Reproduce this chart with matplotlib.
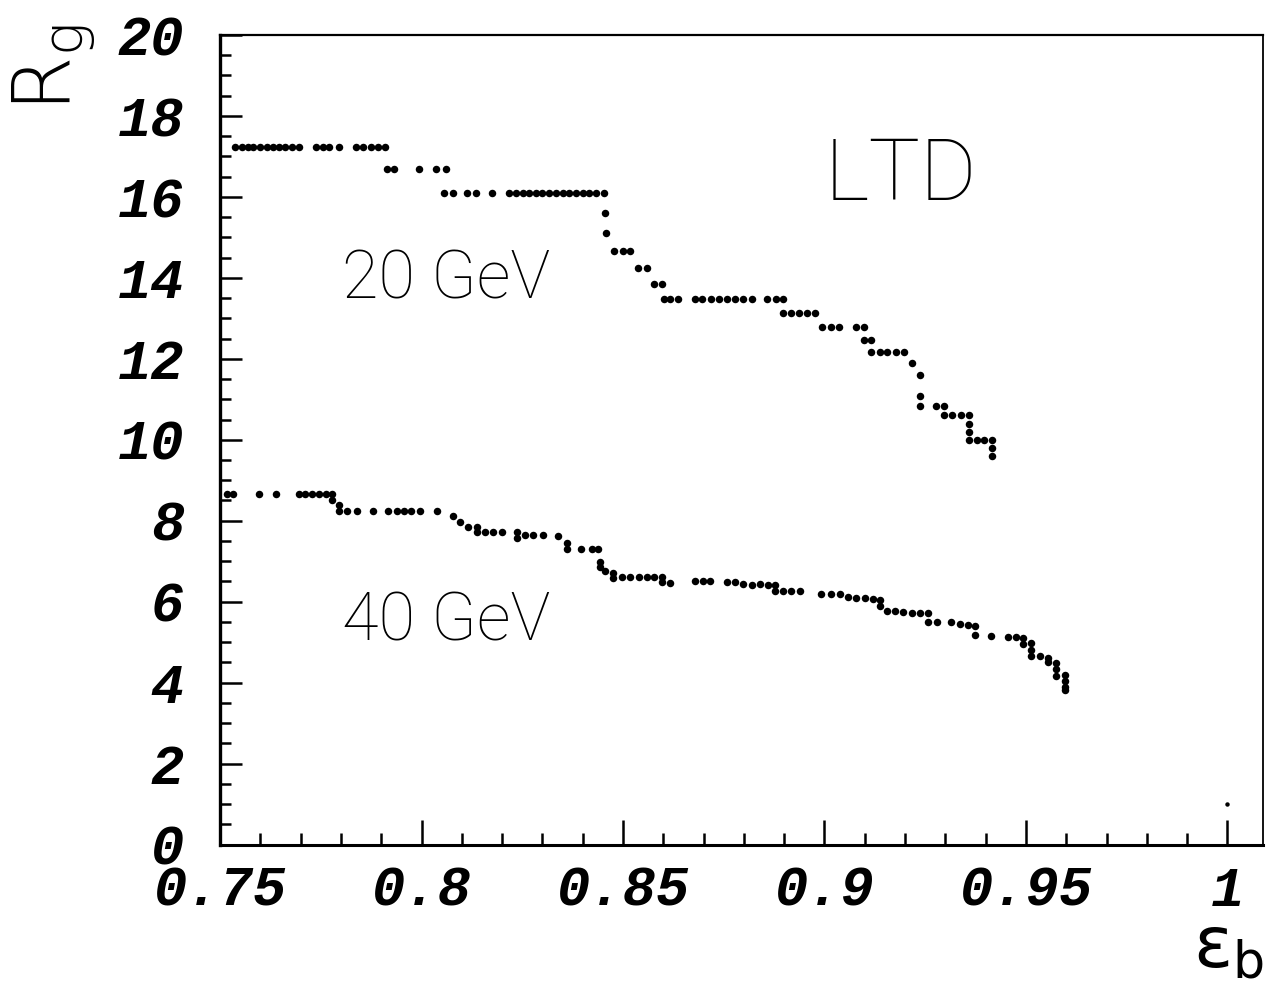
import matplotlib
matplotlib.use("Agg")
import matplotlib.pyplot as plt
from matplotlib.ticker import MultipleLocator, FixedLocator

# Rejection R_g versus b-tagging efficiency, LTD detector
eff_20 = [0.7537, 0.7554, 0.7569, 0.7583, 0.7599, 0.7616, 0.7631, 0.7647, 0.7662, 0.7679, 0.7697,
          0.7738, 0.7755, 0.7771, 0.7796,
          0.7837, 0.7856, 0.7875, 0.7891, 0.7910,
          0.7915, 0.7931, 0.7994, 0.8036, 0.8060,
          0.8056, 0.8077, 0.8114, 0.8135, 0.8176, 0.8218, 0.8234, 0.8251, 0.8267, 0.8284,
          0.8300, 0.8317, 0.8333, 0.8350, 0.8366, 0.8383, 0.8400, 0.8416, 0.8433, 0.8453,
          0.8455, 0.8457,
          0.8478, 0.8499, 0.8518,
          0.8538, 0.8559,
          0.8577, 0.8596,
          0.8601, 0.8617, 0.8637, 0.8678, 0.8697, 0.8718, 0.8738, 0.8757, 0.8778, 0.8799,
          0.8819, 0.8858, 0.8879, 0.8898,
          0.8898, 0.8917, 0.8937, 0.8956, 0.8976,
          0.8995, 0.9015, 0.9036, 0.9077, 0.9097,
          0.9097, 0.9116,
          0.9116, 0.9137, 0.9156, 0.9177, 0.9197,
          0.9216, 0.9237, 0.9237,
          0.9237, 0.9276, 0.9296,
          0.9296, 0.9317, 0.9338, 0.9358,
          0.9358, 0.9358,
          0.9358, 0.9379, 0.9397, 0.9416,
          0.9416, 0.9416]
rg_20 = [17.23] * 11 + [17.23] * 4 + [17.23] * 5 + \
        [16.69] * 5 + \
        [16.10] * 20 + \
        [15.60, 15.12] + \
        [14.66] * 3 + \
        [14.25] * 2 + \
        [13.84] * 2 + \
        [13.48] * 14 + \
        [13.12] * 5 + \
        [12.79] * 5 + \
        [12.47] * 2 + \
        [12.17] * 5 + \
        [11.90, 11.59, 11.08] + \
        [10.83] * 3 + \
        [10.60] * 4 + \
        [10.38, 10.19] + \
        [9.99] * 4 + \
        [9.80, 9.60]

eff_40 = [0.7517, 0.7533, 0.7598, 0.7638, 0.7695, 0.7712, 0.7729, 0.7745, 0.7762, 0.7778,
          0.7778, 0.7796, 0.7796,
          0.7814, 0.7839, 0.7879, 0.7917, 0.7938, 0.7956, 0.7975, 0.7996, 0.8039,
          0.8077, 0.8095, 0.8116, 0.8137, 0.8137, 0.8157, 0.8178, 0.8199,
          0.8236, 0.8236, 0.8257, 0.8277, 0.8302,
          0.8338, 0.8360, 0.8360, 0.8397, 0.8422, 0.8438,
          0.8443, 0.8443, 0.8455, 0.8476, 0.8476,
          0.8498, 0.8518, 0.8539, 0.8560, 0.8576, 0.8597, 0.8597, 0.8617,
          0.8679, 0.8699, 0.8716,
          0.8757, 0.8778, 0.8798, 0.8819, 0.8840, 0.8860, 0.8877, 0.8877,
          0.8898, 0.8918, 0.8939,
          0.8992, 0.9017, 0.9038, 0.9058, 0.9079, 0.9100, 0.9120, 0.9137, 0.9137,
          0.9154, 0.9174, 0.9195, 0.9216, 0.9236, 0.9257, 0.9257, 0.9278,
          0.9315, 0.9335, 0.9356, 0.9373, 0.9373, 0.9414,
          0.9455, 0.9476, 0.9492, 0.9492, 0.9513, 0.9513, 0.9513, 0.9534,
          0.9554, 0.9554, 0.9575, 0.9575, 0.9575,
          0.9596, 0.9596, 0.9596, 0.9596]
rg_40 = [8.65] * 10 + \
        [8.51, 8.38, 8.23] + \
        [8.23] * 9 + \
        [8.11, 7.97, 7.85, 7.84, 7.72, 7.72, 7.72, 7.72] + \
        [7.72, 7.58, 7.64, 7.64, 7.64] + \
        [7.62, 7.45, 7.31, 7.31, 7.31, 7.31] + \
        [6.98, 6.86, 6.76, 6.72, 6.58] + \
        [6.61] * 6 + [6.48, 6.47] + \
        [6.51] * 3 + \
        [6.48, 6.48, 6.43, 6.41, 6.43, 6.41, 6.41, 6.27] + \
        [6.26] * 3 + \
        [6.20, 6.20, 6.20, 6.12, 6.10, 6.10, 6.06, 6.04, 5.90] + \
        [5.77, 5.77, 5.75, 5.73, 5.72, 5.72, 5.50, 5.49] + \
        [5.49, 5.46, 5.42, 5.40, 5.17, 5.16] + \
        [5.13, 5.13, 5.10, 4.95, 4.98, 4.80, 4.66, 4.65] + \
        [4.60, 4.50, 4.48, 4.33, 4.17] + \
        [4.20, 4.05, 3.90, 3.82]

eff_end = [1.0]
rg_end = [1.0]

x_ticks = [0.75, 0.8, 0.85, 0.9, 0.95, 1.0]
x_tick_labels = ["0.75", "0.8", "0.85", "0.9", "0.95", "1"]
y_ticks = [0, 2, 4, 6, 8, 10, 12, 14, 16, 18, 20]

W, H = 1266, 985
fig = plt.figure(figsize=(W / 100, H / 100), dpi=100)
ax = fig.add_axes([220 / W, 1 - 844.5 / H, (1263 - 220) / W, (844.5 - 35) / H])

dot = dict(linestyle="none", marker="o", markersize=5.4, color="black", markeredgewidth=0)
ax.plot(eff_20, rg_20, **dot)
ax.plot(eff_40, rg_40, **dot)
ax.plot(eff_end, rg_end, linestyle="none", marker="o", markersize=3.2, color="black",
        markeredgewidth=0)

ax.set_xlim(0.75, 0.75 + (1263 - 220) / 4030)
ax.set_ylim(0, 20)

ax.xaxis.set_major_locator(FixedLocator(x_ticks))
ax.set_xticklabels(x_tick_labels)
ax.xaxis.set_minor_locator(MultipleLocator(0.01))
ax.yaxis.set_major_locator(FixedLocator(y_ticks))
ax.yaxis.set_minor_locator(MultipleLocator(0.5))

for lab in ax.get_xticklabels() + ax.get_yticklabels():
    lab.set_fontfamily("Liberation Mono")
    lab.set_fontweight("bold")
    lab.set_fontstyle("italic")
    lab.set_fontsize(40)

ax.tick_params(axis="both", which="both", direction="in", top=False, right=False,
               color="black", width=1.8)
ax.tick_params(axis="x", which="major", length=18, pad=15)
ax.tick_params(axis="x", which="minor", length=9)
ax.tick_params(axis="y", which="major", length=16, pad=26)
ax.tick_params(axis="y", which="minor", length=8)

ax.spines["left"].set_linewidth(2.4)
ax.spines["bottom"].set_linewidth(2.2)
ax.spines["top"].set_linewidth(1.6)
ax.spines["right"].set_linewidth(1.3)

label_font = dict(family="Roboto", weight="light", color="black")
ax.text(0.919, 16.5, "LTD", fontsize=62, ha="center", va="center", **label_font)
ax.text(0.806, 13.94, "20 GeV", fontsize=48, ha="center", va="center", **label_font)
ax.text(0.806, 5.49, "40 GeV", fontsize=48, ha="center", va="center", **label_font)

fig.text(54 / W, 1 - 68 / H, r"R$_{\mathregular{g}}$", rotation=90, fontsize=58,
         ha="center", va="center", family="DejaVu Sans", fontweight="light")
fig.text(1264 / W, 1 - 948 / H, r"ε$_{\mathregular{b}}$", fontsize=52,
         ha="right", va="center", family="DejaVu Sans")

fig.savefig("out.png", dpi=100)
